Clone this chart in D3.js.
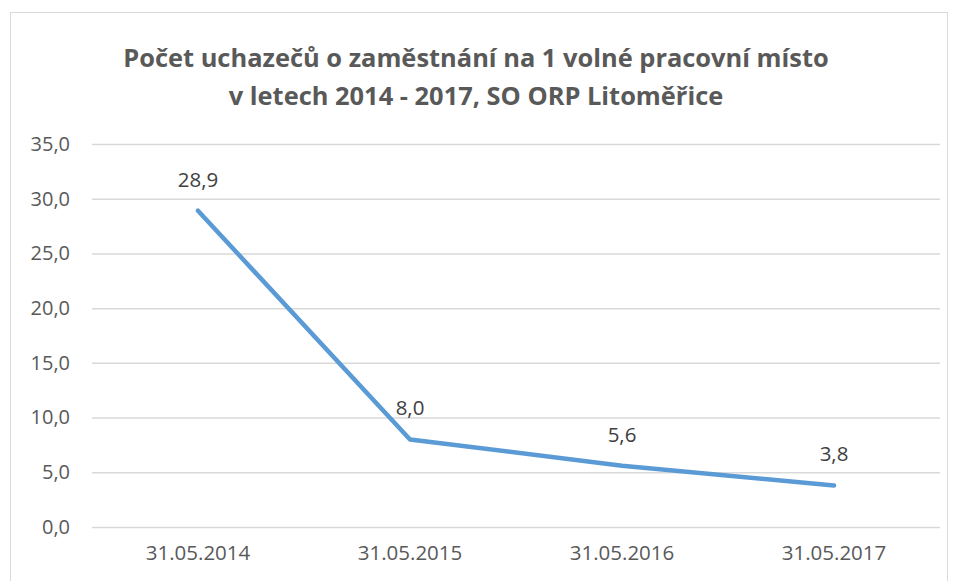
<!DOCTYPE html>
<html>
<head>
<meta charset="utf-8">
<script src="https://cdn.jsdelivr.net/npm/d3@7"></script>
<style>
  body { margin: 0; background: #fff; }
  text { font-family: "Open Sans", "Liberation Sans", sans-serif; }
</style>
</head>
<body>
<div id="chart"></div>
<script>
let categories = ["31.05.2014", "31.05.2015", "31.05.2016", "31.05.2017"];
let values = [28.9, 8.0, 5.6, 3.8];
let yTicks = [0, 5, 10, 15, 20, 25, 30, 35];
let titleLines = ["Počet uchazečů o zaměstnání na 1 volné pracovní místo",
                  "v letech 2014 - 2017, SO ORP Litoměřice"];

let width = 958, height = 581;
let plot = {left: 92, right: 940, top: 144, bottom: 527};

let fmt = v => v.toFixed(1).replace(".", ",");

let svg = d3.select("#chart").append("svg")
    .attr("width", width)
    .attr("height", height);

svg.append("rect")
    .attr("x", 10.5).attr("y", 12.5)
    .attr("width", 937).attr("height", 580)
    .attr("fill", "#fff")
    .attr("stroke", "#d9d9d9");

let x = d3.scaleBand()
    .domain(categories)
    .range([plot.left, plot.right]);

let y = d3.scaleLinear()
    .domain([0, 35])
    .range([plot.bottom, plot.top]);

// title
svg.selectAll(".title")
    .data(titleLines)
    .enter().append("text")
    .attr("class", "title")
    .attr("x", 476)
    .attr("y", (d, i) => 67 + i * 38)
    .attr("text-anchor", "middle")
    .attr("font-size", 24)
    .attr("font-weight", "bold")
    .attr("fill", "#595959")
    .text(d => d);

// fit first title line to the reference width
let t0 = svg.select(".title").node();
let scale = 706 / t0.getComputedTextLength();
svg.selectAll(".title").attr("font-size", 24 * scale);

// y gridlines and labels
let yAxis = d3.axisLeft(y)
    .tickValues(yTicks)
    .tickSize(-(plot.right - plot.left))
    .tickPadding(22)
    .tickFormat(fmt);

let gy = svg.append("g")
    .attr("transform", `translate(${plot.left},0)`)
    .call(yAxis);
gy.select(".domain").remove();
gy.selectAll(".tick line").attr("stroke", "#d9d9d9").attr("stroke-width", 1.5);
gy.selectAll(".tick text")
    .attr("font-size", 20)
    .attr("fill", "#595959")
    .attr("font-family", "Open Sans, sans-serif");

// x labels
let xAxis = d3.axisBottom(x).tickSize(0).tickPadding(18);
let gx = svg.append("g")
    .attr("transform", `translate(0,${plot.bottom})`)
    .call(xAxis);
gx.select(".domain").remove();
gx.selectAll(".tick text")
    .attr("font-size", 20.5)
    .attr("fill", "#595959")
    .attr("font-family", "Open Sans, sans-serif");

// line
let cx = d => x(d) + x.bandwidth() / 2;
let pts = categories.map((c, i) => ({c, v: values[i]}));

let line = d3.line()
    .x(d => cx(d.c))
    .y(d => y(d.v));

svg.append("path")
    .datum(pts)
    .attr("d", line)
    .attr("fill", "none")
    .attr("stroke", "#5b9bd5")
    .attr("stroke-width", 4.5)
    .attr("stroke-linecap", "round")
    .attr("stroke-linejoin", "round");

// value labels
svg.selectAll(".lbl")
    .data(pts)
    .enter().append("text")
    .attr("class", "lbl")
    .attr("x", d => cx(d.c))
    .attr("y", d => y(d.v) - 24)
    .attr("text-anchor", "middle")
    .attr("font-size", 20.5)
    .attr("fill", "#404040")
    .text(d => fmt(d.v));
</script>
</body>
</html>
